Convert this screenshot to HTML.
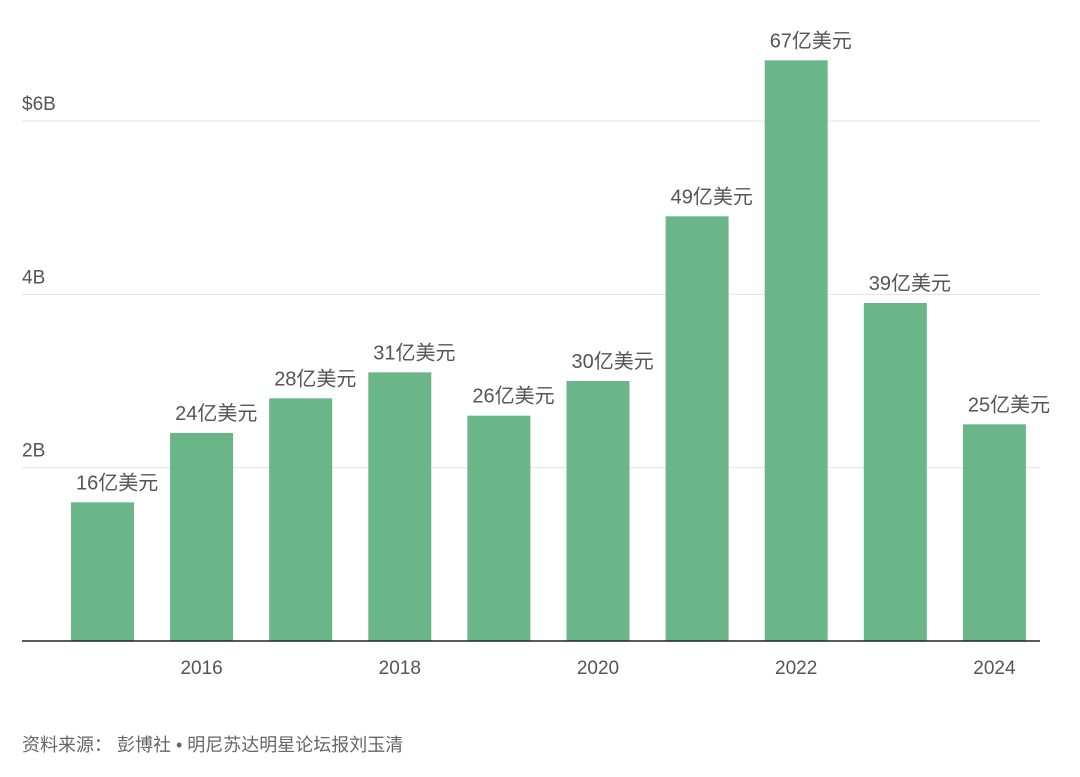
<!DOCTYPE html>
<html><head><meta charset="utf-8">
<style>
body{margin:0;background:#fff;width:1080px;height:772px;overflow:hidden;font-family:"Liberation Sans","Noto Sans CJK SC",sans-serif;}
svg text{font-family:"Liberation Sans","Noto Sans CJK SC",sans-serif;}
</style></head>
<body>
<svg id="chart" width="1080" height="772" xmlns="http://www.w3.org/2000/svg"></svg>
<script>
const years = [2015,2016,2017,2018,2019,2020,2021,2022,2023,2024];
const values = [1.6,2.4,2.8,3.1,2.6,3.0,4.9,6.7,3.9,2.5];
const valueLabels = ["16亿美元","24亿美元","28亿美元","31亿美元","26亿美元","30亿美元","49亿美元","67亿美元","39亿美元","25亿美元"];
const yTicks = [2,4,6];
const yTickLabels = ["2B","4B","$6B"];
const xTickYears = [2016,2018,2020,2022,2024];

const svg = document.getElementById('chart');
const NS = 'http://www.w3.org/2000/svg';
const y0 = 641, pxPerUnit = 86.67;
const yScale = v => y0 - v * pxPerUnit;
const x0 = 102.5, step = 99.1, barW = 63;
const xScale = yr => x0 + (yr - years[0]) * step;
function mk(tag, attrs){const e=document.createElementNS(NS,tag);for(const k in attrs)e.setAttribute(k,attrs[k]);svg.appendChild(e);return e;}

yTicks.forEach((t,i)=>{
  const g = mk('line',{x1:22,x2:1040,y1:yScale(t),y2:yScale(t),stroke:'#e3e3e3','stroke-width':1});
  
  
  const l = mk('text',{x:22,y:yScale(t)-11,'font-size':19,fill:'#555'});
  l.textContent = yTickLabels[i];
  
  
});

years.forEach((yr,i)=>{
  const cx = xScale(yr);
  const b = mk('rect',{x:cx-barW/2,y:yScale(values[i]),width:barW,height:y0-yScale(values[i]),fill:'#6ab689'});
  
  
  const t = mk('text',{x:cx-barW/2+5,y:yScale(values[i])-13,'font-size':20,fill:'#555'});
  t.textContent = valueLabels[i];
  
  
});

const ax = mk('line',{x1:22,x2:1040,y1:y0,y2:y0,stroke:'#222','stroke-width':1.5});



xTickYears.forEach(yr=>{
  const t = mk('text',{x:xScale(yr),y:674,'font-size':19,fill:'#555','text-anchor':'middle'});
  t.textContent = yr;
  
  
});

const src = mk('text',{x:22,y:751,'font-size':18,fill:'#666'});
src.textContent = '资料来源：  彭博社 • 明尼苏达明星论坛报刘玉清';


</script>
</body></html>
